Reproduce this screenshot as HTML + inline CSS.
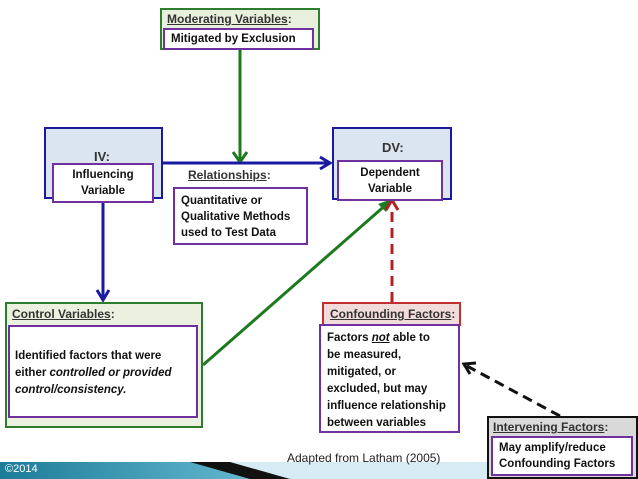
<!DOCTYPE html><html><head><style>
body{margin:0;width:638px;height:479px;background:#fff;position:relative;overflow:hidden;font-family:"Liberation Sans",Calibri,sans-serif;}
.b{position:absolute;box-sizing:border-box;}
.t{position:absolute;font-size:12px;font-weight:bold;color:#333;}
.in{position:absolute;box-sizing:border-box;background:#fff;border:2px solid #7030a0;font-size:11.5px;font-weight:bold;color:#111;line-height:16px;white-space:nowrap;}
u{text-decoration:underline;}
</style></head><body>
<svg class="b" style="left:0;top:0" width="638" height="479">
<defs>
<linearGradient id="g" x1="0" x2="1"><stop offset="0" stop-color="#1c7c98"/><stop offset="1" stop-color="#6fc0d8"/></linearGradient>
</defs>
<rect x="0" y="462" width="638" height="17" fill="#d6ebf3"/>
<polygon points="0,462 190,462 290,479 0,479" fill="url(#g)"/>
<polygon points="190,462 230,462 290,479 250,479" fill="#111"/>
<line x1="240" y1="50" x2="240" y2="160" stroke="#1e7a1e" stroke-width="3"/>
<polyline points="233,152 240,162 247,152" fill="none" stroke="#1e7a1e" stroke-width="3"/>
<line x1="163" y1="163" x2="328" y2="163" stroke="#1a1aa0" stroke-width="3"/>
<polyline points="320,157 330,163 320,169" fill="none" stroke="#1a1aa0" stroke-width="3"/>
<line x1="103" y1="203" x2="103" y2="298" stroke="#1a1aa0" stroke-width="3"/>
<polyline points="97,290 103,300 109,290" fill="none" stroke="#1a1aa0" stroke-width="3"/>
<line x1="203" y1="365" x2="388" y2="203" stroke="#1e7a1e" stroke-width="3"/>
<polygon points="392,199 378,204 386,212" fill="#1e7a1e"/>
<line x1="392" y1="302" x2="392" y2="208" stroke="#b02020" stroke-width="3" stroke-dasharray="10,6"/>
<polyline points="386,210 392,200 398,210" fill="none" stroke="#b02020" stroke-width="3"/>
<line x1="560" y1="416" x2="467" y2="366" stroke="#111" stroke-width="3" stroke-dasharray="10,6"/>
<polyline points="470,374 464,364 476,363" fill="none" stroke="#111" stroke-width="3"/>
</svg>
<div class="b" style="left:160px;top:8px;width:160px;height:42px;background:#e8efdc;border:2px solid #2e7d2e"></div>
<div class="t" style="left:167px;top:12px;"><u>Moderating Variables</u>:</div>
<div class="in" style="left:163px;top:28px;width:151px;height:22px;padding:1px 6px;">Mitigated by Exclusion</div>
<div class="b" style="left:44px;top:127px;width:119px;height:72px;background:#dbe5f1;border:2px solid #1a1aa0"></div>
<div class="t" style="left:94px;top:149px;font-size:13px">IV:</div>
<div class="in" style="left:52px;top:163px;width:102px;height:40px;text-align:center;padding-top:2px">Influencing<br>Variable</div>
<div class="t" style="left:188px;top:168px;"><u>Relationships</u>:</div>
<div class="in" style="left:173px;top:187px;width:135px;height:58px;padding:4px 6px;">Quantitative or<br>Qualitative Methods<br>used to Test Data</div>
<div class="b" style="left:332px;top:127px;width:120px;height:73px;background:#dbe5f1;border:2px solid #1a1aa0"></div>
<div class="t" style="left:382px;top:140px;font-size:13px">DV:</div>
<div class="in" style="left:337px;top:160px;width:106px;height:41px;text-align:center;padding-top:3px">Dependent<br>Variable</div>
<div class="b" style="left:5px;top:302px;width:198px;height:126px;background:#ebf1de;border:2px solid #2e7d2e"></div>
<div class="t" style="left:12px;top:307px;"><u>Control Variables</u>:</div>
<div class="in" style="left:8px;top:325px;width:190px;height:93px;padding:21px 5px;line-height:17px">Identified factors that were<br>either <i>controlled or provided</i><br><i>control/consistency.</i></div>
<div class="b" style="left:322px;top:302px;width:139px;height:24px;background:#f2dcdb;border:2px solid #c03030"></div>
<div class="t" style="left:330px;top:307px;"><u>Confounding Factors</u>:</div>
<div class="in" style="left:319px;top:324px;width:141px;height:109px;padding:4px 6px;line-height:17px">Factors <i><u>not</u></i> able to<br>be measured,<br>mitigated, or<br>excluded, but may<br>influence relationship<br>between variables</div>
<div class="b" style="left:487px;top:416px;width:151px;height:63px;background:#d9d9d9;border:2px solid #111"></div>
<div class="t" style="left:493px;top:420px;"><u>Intervening Factors</u>:</div>
<div class="in" style="left:491px;top:436px;width:142px;height:40px;padding:2px 6px">May amplify/reduce<br>Confounding Factors</div>
<div class="b" style="left:287px;top:451px;font-size:12px;color:#222">Adapted from Latham (2005)</div>
<div class="b" style="left:5px;top:463px;font-size:11px;color:#fff">©2014</div>
</body></html>
